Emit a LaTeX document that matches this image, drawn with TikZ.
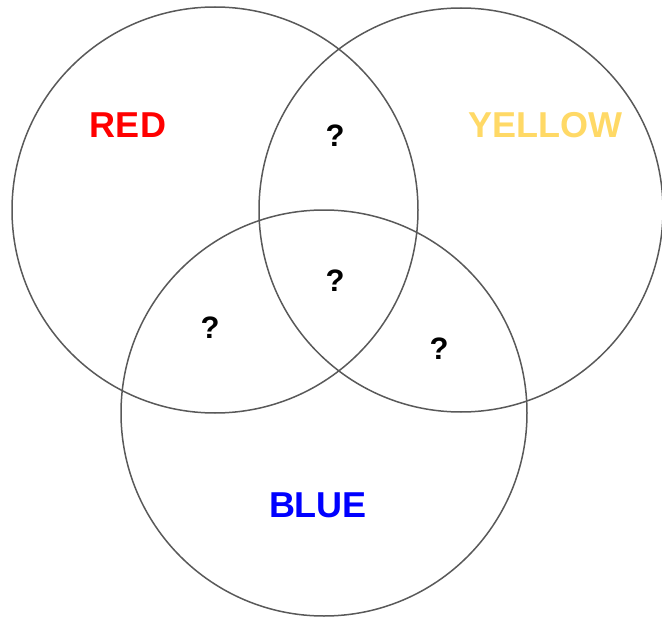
\documentclass[tikz,border=0pt]{standalone}
\usepackage{fontspec}
\setmainfont{Liberation Sans}
\definecolor{ringgray}{HTML}{595959}
\definecolor{myred}{HTML}{FF0000}
\definecolor{myyellow}{HTML}{FFD966}
\definecolor{myblue}{HTML}{0000FF}
\begin{document}
\begin{tikzpicture}[x=1pt,y=-1pt,
  ring/.style={circle,draw=ringgray,line width=1.5pt,inner sep=0pt},
  lbl/.style={font=\fontsize{36}{42}\selectfont\bfseries,inner sep=0pt},
  qm/.style={font=\fontsize{31}{36}\selectfont\bfseries,inner sep=0pt}]
\useasboundingbox (0,0) rectangle (662,618);
\node[ring,minimum size=406pt] (cred) at (215,210) {};
\node[ring,minimum size=404pt] (cyellow) at (461,210) {};
\node[ring,minimum size=406pt] (cblue) at (324,413) {};
\node[lbl,text=myred] (tred) at (128,125) {RED};
\node[lbl,text=myyellow] (tyellow) at (545,125) {YELLOW};
\node[lbl,text=myblue] (tblue) at (318,505) {BLUE};
\node[qm] (q1) at (335,136) {?};
\node[qm] (q2) at (335,281) {?};
\node[qm] (q3) at (210,328) {?};
\node[qm] (q4) at (439,349) {?};
\end{tikzpicture}
\end{document}
